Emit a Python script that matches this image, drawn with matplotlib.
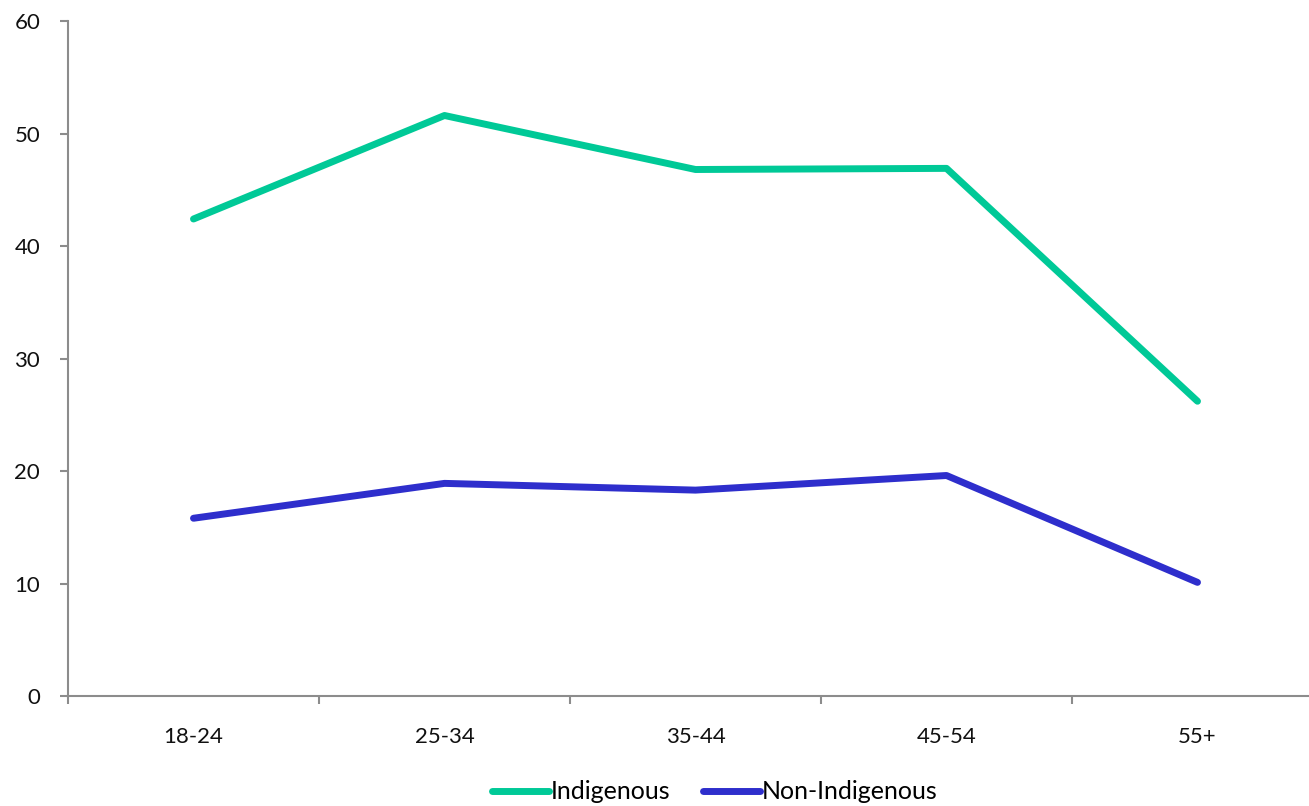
import matplotlib
matplotlib.use("Agg")
import matplotlib.pyplot as plt
from matplotlib.ticker import FixedLocator

age_groups = ["18-24", "25-34", "35-44", "45-54", "55+"]
indigenous = [42.4, 51.6, 46.8, 46.9, 26.2]
non_indigenous = [15.8, 18.9, 18.3, 19.6, 10.1]

plt.rcParams["font.family"] = ["Lato", "DejaVu Sans"]

W, H = 1309, 806
fig = plt.figure(figsize=(W / 100, H / 100), dpi=100)
ax = fig.add_axes([68 / W, (H - 696) / H, (W - 68) / W, (696 - 21) / H])

x = range(len(age_groups))
ax.plot(x, indigenous, color="#00C997", lw=5, solid_capstyle="round",
        solid_joinstyle="round", label="Indigenous")
ax.plot(x, non_indigenous, color="#2E2ECC", lw=5, solid_capstyle="round",
        solid_joinstyle="round", label="Non-Indigenous")

ax.set_ylim(0, 60)
ax.set_yticks(range(0, 61, 10))
ax.set_xlim(-0.5, -0.5 + (W - 68) / 251)
ax.set_xticks(list(x))
ax.set_xticklabels(age_groups)
ax.xaxis.set_minor_locator(FixedLocator([-0.5, 0.5, 1.5, 2.5, 3.5]))

for s in ["top", "right"]:
    ax.spines[s].set_visible(False)
for s in ["left", "bottom"]:
    ax.spines[s].set_color("#8c8c8c")
    ax.spines[s].set_linewidth(1.5)

ax.tick_params(axis="y", length=6, width=1.5, color="#8c8c8c",
               labelsize=16, pad=14, labelcolor="#111111")
ax.tick_params(axis="x", which="major", length=0, labelsize=16, pad=22,
               labelcolor="#111111")
ax.tick_params(axis="x", which="minor", length=6, width=1.5, color="#8c8c8c")

ax.legend(loc="center", bbox_to_anchor=(0.521, -0.142),
          ncol=2, frameon=False, fontsize=18, handlelength=2.3,
          handletextpad=0.05, columnspacing=1.3, borderpad=0)

fig.savefig("out.png", dpi=100)
